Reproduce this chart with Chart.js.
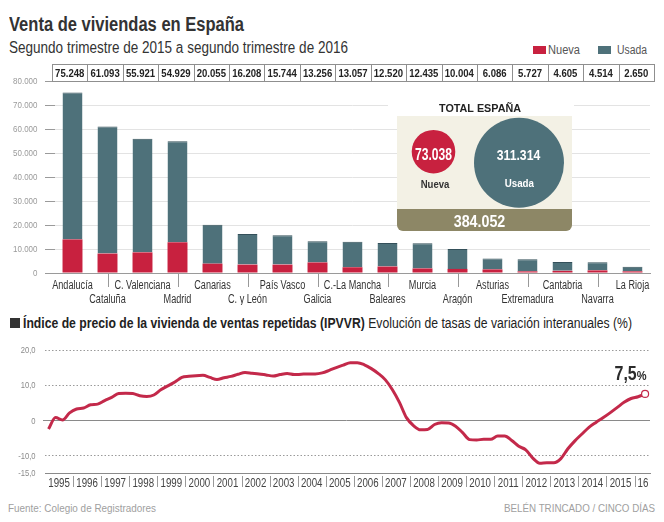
<!DOCTYPE html>
<html lang="es">
<head>
<meta charset="utf-8">
<title>Venta de viviendas en España</title>
<script src="https://cdn.jsdelivr.net/npm/chart.js@4.4.1/dist/chart.umd.min.js"></script>
<style>
  body { margin: 0; background: #fff; }
  #page { position: relative; width: 664px; height: 522px; overflow: hidden; font-family: 'Liberation Sans', Arial, sans-serif; color: #222; }
  .abs { position: absolute; white-space: nowrap; line-height: 1; transform-origin: left center; }
  canvas { position: absolute; left: 0; }
  #titulo { left: 9px; top: 14px; font-size: 20px; font-weight: bold; color: #333; }
  #subtitulo { left: 9px; top: 40px; font-size: 16px; color: #333; }
  .sw { position: absolute; width: 13px; height: 8px; top: 46px; }
  .ley { top: 44px; font-size: 12.5px; color: #555; }
  #cuadro { left: 10px; top: 318px; width: 10px; height: 10px; background: #333; }
  #cabecera { left: 23px; top: 316px; font-size: 14px; color: #222; }
  #fuente { left: 8px; top: 503px; font-size: 10.5px; color: #a0a0a0; }
  #firma { left: 504px; top: 503px; font-size: 10.5px; color: #a0a0a0; }
</style>
</head>
<body>
<div id="page">
  <div class="abs" id="titulo">Venta de viviendas en España</div>
  <div class="abs" id="subtitulo">Segundo trimestre de 2015 a segundo trimestre de 2016</div>
  <div class="sw" style="left:533px; background:#c8213f"></div>
  <div class="abs ley" id="leyNueva" style="left:548px">Nueva</div>
  <div class="sw" style="left:598px; background:#4e717a"></div>
  <div class="abs ley" id="leyUsada" style="left:617px">Usada</div>
  <canvas id="barras" width="664" height="250" style="top:55px"></canvas>
  <div id="cuadro" class="abs"></div>
  <div class="abs" id="cabecera"><b>Índice de precio de la vivienda de ventas repetidas (IPVVR)</b> Evolución de tasas de variación interanuales (%)</div>
  <canvas id="linea" width="664" height="165" style="top:335px"></canvas>
  <div class="abs" id="fuente">Fuente: Colegio de Registradores</div>
  <div class="abs" id="firma">BELÉN TRINCADO / CINCO DÍAS</div>
</div>

<script>
// Datos: venta de viviendas por comunidad (2T 2015 - 2T 2016)
const regiones = ['Andalucía', 'Cataluña', 'C. Valenciana', 'Madrid', 'Canarias', 'C. y León', 'País Vasco', 'Galicia',
  'C.-La Mancha', 'Baleares', 'Murcia', 'Aragón', 'Asturias', 'Extremadura', 'Cantabria', 'Navarra', 'La Rioja'];
const totales = [75248, 61093, 55921, 54929, 20055, 16208, 15744, 13256, 13057, 12520, 12435, 10004, 6086, 5727, 4605, 4514, 2650];
const nueva = [14000, 8100, 8600, 12800, 3900, 3500, 3500, 4400, 2400, 2700, 1900, 1700, 1500, 700, 900, 1100, 700];
const usada = [61248, 52993, 47321, 42129, 16155, 12708, 12244, 8856, 10657, 9820, 10535, 8304, 4586, 5027, 3705, 3414, 1950];
const totalNueva = 73038;
const totalUsada = 311314;
const totalEspana = 384052;
const ticksBarras = [0, 10000, 20000, 30000, 40000, 50000, 60000, 70000, 80000];

// IPVVR, tasa interanual trimestral desde 1995 T1 hasta 2016 T2
const anioInicio = 1995;
const ipvvr = [
  -2.5, 0.8, 0.1, 2.1, 3.2, 3.5, 4.4, 4.6, 5.6, 6.5, 7.6, 7.7, 7.6, 7.0, 6.8, 7.2, 8.7, 9.8, 10.9, 12.2, 12.5, 12.7,
  12.8, 12.2, 11.6, 12.1, 12.5, 13.1, 13.6, 13.4, 13.2, 12.9, 12.6, 13.0, 13.3, 13.0, 13.1, 13.2, 13.2, 13.5, 14.2, 15.0, 15.7, 16.4,
  16.4, 15.8, 14.7, 13.3, 11.5, 8.7, 5.1, 0.75, -1.5, -2.7, -2.6, -1.2, -0.7, -0.75, -1.7, -3.5, -5.5, -5.6, -5.4, -5.4, -4.5, -4.5,
  -5.75, -7.4, -8.4, -10.75, -12.2, -12.1, -12.1, -10.9, -8.1, -5.85, -3.9, -2.0, -0.6, 0.7, 2.1, 3.6, 5.1, 6.2, 6.7, 7.5
];
const etiquetasAnios = ['1995', '1996', '1997', '1998', '1999', '2000', '2001', '2002', '2003', '2004', '2005',
  '2006', '2007', '2008', '2009', '2010', '2011', '2012', '2013', '2014', '2015', '16'];
const ticksLinea = [20, 10, 0, -10, -15];

const ROJO = '#c8213f';
const VERDE = '#4e717a';
const LINEA = '#c3294a';
const FAM = "'Liberation Sans', Arial, sans-serif";

Chart.defaults.font.family = FAM;
Chart.defaults.animation = false;

function miles(n) {
  return String(n).replace(/\B(?=(\d{3})+(?!\d))/g, '.');
}

// texto estrechado horizontalmente (la fuente original es condensada)
function texto(ctx, str, x, y, font, color, align, sx) {
  ctx.save();
  ctx.font = font;
  ctx.fillStyle = color;
  ctx.textAlign = align || 'center';
  ctx.textBaseline = 'alphabetic';
  ctx.translate(x, y);
  ctx.scale(sx, 1);
  ctx.fillText(str, 0, 0);
  ctx.restore();
}

function textoAncho(ctx, str, x, y, font, color, align, ancho) {
  ctx.save();
  ctx.font = font;
  const w = ctx.measureText(str).width;
  ctx.restore();
  texto(ctx, str, x, y, font, color, align, ancho / w);
}

// Etiquetas, tabla de totales y recuadro "TOTAL ESPAÑA"
const extrasBarras = {
  id: 'extrasBarras',
  afterDraw(chart) {
    const ctx = chart.ctx;
    const x = chart.scales.x;
    const y = chart.scales.y;
    ctx.save();

    // eje y
    ticksBarras.forEach(v => {
      texto(ctx, miles(v), 37.5, y.getPixelForValue(v) + 3.3, '9.5px ' + FAM, '#9a9a9a', 'right', 0.84);
    });

    // etiquetas de comunidades en dos filas, con guias
    ctx.strokeStyle = '#999';
    ctx.lineWidth = 1;
    regiones.forEach((r, i) => {
      const px = x.getPixelForValue(i);
      if (i % 2 === 1) {
        const gx = Math.round(px) + 0.5;
        ctx.beginPath();
        ctx.moveTo(gx, y.bottom + 1);
        ctx.lineTo(gx, y.bottom + 14);
        ctx.stroke();
        texto(ctx, r, px, 247.7, '12px ' + FAM, '#333', 'center', 0.76);
      } else {
        texto(ctx, r, px, 234.3, '12px ' + FAM, '#333', 'center', 0.76);
      }
    });

    // tabla de totales
    const n = totales.length;
    const left = x.left - 3, right = x.right + 4;
    const w = (right - left) / n;
    const top = 9.5, h = 17;
    ctx.fillStyle = '#fff';
    ctx.fillRect(left, top, right - left, h);
    ctx.strokeStyle = '#8f8f8f';
    ctx.strokeRect(Math.round(left) + 0.5, top, Math.round(right - left), h);
    totales.forEach((t, i) => {
      if (i > 0) {
        const bx = Math.round(left + w * i) + 0.5;
        ctx.beginPath();
        ctx.moveTo(bx, top);
        ctx.lineTo(bx, top + h);
        ctx.stroke();
      }
      texto(ctx, miles(t), left + w * (i + 0.5), 21.5, 'bold 11.5px ' + FAM, '#222', 'center', 0.83);
    });

    // recuadro total España
    const bx0 = 397, bx1 = 572, by0 = 61, by1 = 176, band = 154;
    ctx.fillStyle = '#fff';
    ctx.fillRect(388, 42, 186, 19);
    textoAncho(ctx, 'TOTAL ESPAÑA', 480, 56.7, 'bold 11px ' + FAM, '#222', 'center', 82);

    ctx.fillStyle = '#f3f1e5';
    ctx.beginPath();
    ctx.roundRect(bx0, by0, bx1 - bx0, by1 - by0, [0, 0, 6, 6]);
    ctx.fill();
    ctx.fillStyle = '#8d8766';
    ctx.beginPath();
    ctx.roundRect(bx0, band, bx1 - bx0, by1 - band, [0, 0, 6, 6]);
    ctx.fill();
    texto(ctx, miles(totalEspana), 479.5, 171.7, 'bold 17px ' + FAM, '#fff', 'center', 0.84);

    // circulos con area proporcional al total
    const k = 45 / Math.sqrt(totalUsada);
    const rN = k * Math.sqrt(totalNueva), rU = k * Math.sqrt(totalUsada);
    ctx.fillStyle = ROJO;
    ctx.beginPath();
    ctx.arc(433.5, 96.7, rN, 0, Math.PI * 2);
    ctx.fill();
    ctx.fillStyle = VERDE;
    ctx.beginPath();
    ctx.arc(519, 107.7, rU, 0, Math.PI * 2);
    ctx.fill();

    textoAncho(ctx, miles(totalNueva), 433.5, 105, 'bold 16px ' + FAM, '#fff', 'center', 37);
    textoAncho(ctx, miles(totalUsada), 518.5, 105, 'bold 15px ' + FAM, '#fff', 'center', 43.5);
    textoAncho(ctx, 'Nueva', 435, 132.7, 'bold 10px ' + FAM, '#333', 'center', 28.7);
    textoAncho(ctx, 'Usada', 519.3, 131.7, 'bold 10px ' + FAM, '#fff', 'center', 29.3);
    ctx.restore();
  }
};

new Chart(document.getElementById('barras'), {
  type: 'bar',
  data: {
    labels: regiones,
    datasets: [
      { label: 'Nueva', data: nueva, backgroundColor: ROJO, borderWidth: 0 },
      { label: 'Usada', data: usada, backgroundColor: VERDE, borderColor: '#34505a',
        borderWidth: { top: 1, left: 0, right: 0, bottom: 0 }, borderSkipped: 'bottom' }
    ]
  },
  options: {
    responsive: false,
    devicePixelRatio: 1,
    layout: { padding: { top: 26, right: 14, left: 0, bottom: 0 } },
    datasets: { bar: { categoryPercentage: 1, barPercentage: 0.57 } },
    plugins: { legend: { display: false }, tooltip: { enabled: false } },
    scales: {
      x: {
        stacked: true,
        afterFit: s => { s.height = 32; },
        grid: { display: false },
        border: { display: true, color: '#9a9a9a' },
        ticks: { display: false }
      },
      y: {
        stacked: true,
        min: 0, max: 80000,
        afterFit: s => { s.width = 55; },
        afterBuildTicks: s => { s.ticks = ticksBarras.map(v => ({ value: v })); },
        border: { display: false },
        grid: {
          color: ctx => (ctx.tick && ctx.tick.value === 0 ? '#9a9a9a' : '#e3e3e3'),
          tickColor: '#9a9a9a', tickLength: 10
        },
        ticks: { display: false }
      }
    }
  },
  plugins: [extrasBarras]
});

// Linea del cero, ejes y etiqueta final
const extrasLinea = {
  id: 'extrasLinea',
  beforeDatasetsDraw(chart) {
    const ctx = chart.ctx;
    const x = chart.scales.x, y = chart.scales.y;
    ctx.save();
    ctx.strokeStyle = '#8a8a8a';
    ctx.lineWidth = 1;
    const y0 = Math.round(y.getPixelForValue(0)) + 0.5;
    ctx.beginPath();
    ctx.moveTo(x.left - 2, y0);
    ctx.lineTo(x.right, y0);
    ctx.stroke();
    ctx.strokeStyle = '#999';
    for (let a = anioInicio + 1; a <= 2016; a++) {
      const px = Math.round(x.getPixelForValue(a)) + 0.5;
      ctx.beginPath();
      ctx.moveTo(px, y.bottom + 3);
      ctx.lineTo(px, y.bottom + 14);
      ctx.stroke();
    }
    ticksLinea.forEach(v => {
      const lab = v === 0 ? '0' : v.toFixed(1).replace('.', ',');
      texto(ctx, lab, 35.5, y.getPixelForValue(v) + 3.3, '9.5px ' + FAM, '#8a8a8a', 'right', 0.8);
    });
    etiquetasAnios.forEach((e, i) => {
      const pos = i < etiquetasAnios.length - 1 ? anioInicio + i + 0.5 : 2016.3;
      texto(ctx, e, x.getPixelForValue(pos), 151.7, '12px ' + FAM, '#444', 'center', 0.81);
    });
    ctx.restore();
  },
  afterDatasetsDraw(chart) {
    const ctx = chart.ctx;
    const meta = chart.getDatasetMeta(0);
    const p = meta.data[meta.data.length - 1];
    const valor = ipvvr[ipvvr.length - 1].toFixed(1).replace('.', ',');
    const rx = p.x + 1.5, by = p.y - 14.3;
    ctx.save();
    ctx.font = 'bold 13px ' + FAM;
    const wp = ctx.measureText('%').width * 0.85;
    ctx.restore();
    texto(ctx, '%', rx, by, 'bold 13px ' + FAM, '#2b2b2b', 'right', 0.85);
    texto(ctx, valor, rx - wp, by, 'bold 19.5px ' + FAM, '#2b2b2b', 'right', 0.82);
  }
};

const ultimo = ipvvr.length - 1;
new Chart(document.getElementById('linea'), {
  type: 'line',
  data: {
    datasets: [{
      data: ipvvr.map((v, i) => ({ x: anioInicio + (i + 0.5) / 4, y: v })),
      borderColor: LINEA,
      borderWidth: 3,
      cubicInterpolationMode: 'monotone',
      pointRadius: ctx => (ctx.dataIndex === ultimo ? 3.5 : 0),
      pointBackgroundColor: '#fff',
      pointBorderColor: LINEA,
      pointBorderWidth: 1.2,
      clip: false
    }]
  },
  options: {
    responsive: false,
    devicePixelRatio: 1,
    layout: { padding: { top: 15, right: 14, left: 0, bottom: 0 } },
    plugins: { legend: { display: false }, tooltip: { enabled: false } },
    scales: {
      x: {
        type: 'linear',
        min: anioInicio, max: 2016.55,
        afterFit: s => { s.height = 27; },
        grid: { display: false },
        border: { display: true, color: '#8a8a8a' },
        ticks: { display: false }
      },
      y: {
        min: -15, max: 20,
        afterFit: s => { s.width = 45; },
        afterBuildTicks: s => { s.ticks = ticksLinea.map(v => ({ value: v })); },
        border: { display: false, dash: [1.5, 2] },
        grid: {
          drawTicks: false,
          color: ctx => (ctx.tick && (ctx.tick.value === 0 || ctx.tick.value === -15) ? 'rgba(0,0,0,0)' : '#9a9a9a')
        },
        ticks: { display: false }
      }
    }
  },
  plugins: [extrasLinea]
});

// textos HTML estrechados al ancho del original
function ajustar(id, ancho) {
  const el = document.getElementById(id);
  const w = el.getBoundingClientRect().width;
  el.style.transform = 'scaleX(' + (ancho / w) + ')';
}
ajustar('titulo', 235);
ajustar('subtitulo', 339);
ajustar('leyNueva', 32);
ajustar('leyUsada', 30);
ajustar('cabecera', 609);
ajustar('fuente', 148);
ajustar('firma', 151);
</script>
</body>
</html>
